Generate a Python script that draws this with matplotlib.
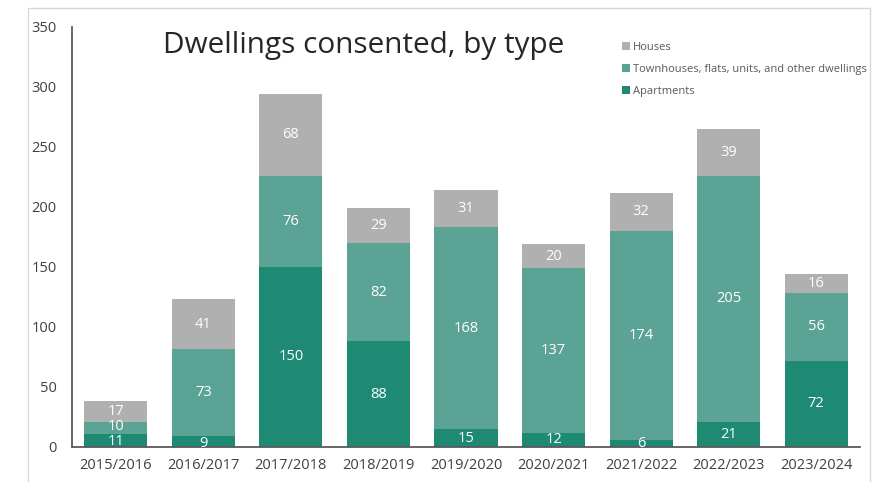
import matplotlib.pyplot as plt
from matplotlib.patches import Rectangle
import numpy as np

plt.rcParams['font.family'] = ['Open Sans', 'DejaVu Sans']

# =========================================================
# DATA
# =========================================================

years = ['2015/2016', '2016/2017', '2017/2018', '2018/2019', '2019/2020',
         '2020/2021', '2021/2022', '2022/2023', '2023/2024']
apartments = [11, 9, 150, 88, 15, 12, 6, 21, 72]
townhouses = [10, 73, 76, 82, 168, 137, 174, 205, 56]
houses = [17, 41, 68, 29, 31, 20, 32, 39, 16]

c_apt = '#1f8a74'
c_town = '#5ba394'
c_house = '#b0b0b0'

# =========================================================
# FIGURE
# =========================================================

fig = plt.figure(figsize=(8.74, 4.82), dpi=100)
ax = fig.add_axes([72/874, 1 - 447/482, 788/874, 420/482])

# outer chart border
fig.patches.append(Rectangle((28/874, -0.05), (870 - 28)/874, 1.05 - 8/482,
                             transform=fig.transFigure, fill=False,
                             edgecolor='#d9d9d9', linewidth=1))

x = np.arange(len(years))
w = 0.72
apt = np.array(apartments)
town = np.array(townhouses)
hou = np.array(houses)

b1 = ax.bar(x, apt, w, color=c_apt, label='Apartments', zorder=2)
b2 = ax.bar(x, town, w, bottom=apt, color=c_town,
            label='Townhouses, flats, units, and other dwellings', zorder=2)
b3 = ax.bar(x, hou, w, bottom=apt + town, color=c_house, label='Houses', zorder=2)

# data labels (centred in each segment, tiny segments nudged so they don't collide)
for k, (vals, bots) in enumerate([(apt, np.zeros_like(apt)), (town, apt), (hou, apt + town)]):
    for i, v in enumerate(vals):
        y = bots[i] + v / 2
        if v < 10:
            y = bots[i] + 3
        elif v <= 11:
            y = bots[i] + v / 2 + (1.5 if k == 1 else -1.0)
        ax.text(x[i], y, str(v), ha='center', va='center', color='white',
                fontsize=10.5, zorder=3)

ax.set_xlim(-0.5, len(years) - 0.5)
ax.set_ylim(0, 350)
ax.set_yticks(range(0, 351, 50))
ax.set_xticks(x)
ax.set_xticklabels(years)
ax.tick_params(axis='both', length=0, labelsize=10.5, colors='#404040')
ax.tick_params(axis='y', pad=11)
ax.tick_params(axis='x', pad=8)

for s in ['top', 'right']:
    ax.spines[s].set_visible(False)
ax.spines['left'].set_color('#595959')
ax.spines['bottom'].set_color('#595959')
ax.spines['left'].set_linewidth(1.3)
ax.spines['bottom'].set_linewidth(1.3)

fig.text(163/874, 1 - 45/482, 'Dwellings consented, by type', fontsize=21.4,
         color='#262626', va='center', ha='left')

handles = [b3, b2, b1]
leg = ax.legend(handles=handles, labels=[h.get_label() for h in handles],
                loc='upper left', bbox_to_anchor=(612/874, 1 - 32/482),
                bbox_transform=fig.transFigure, frameon=False, fontsize=8,
                handlelength=0.7, handleheight=0.7, handletextpad=0.3,
                labelspacing=1.0, labelcolor='#595959')

fig.savefig('out.png', dpi=100)
